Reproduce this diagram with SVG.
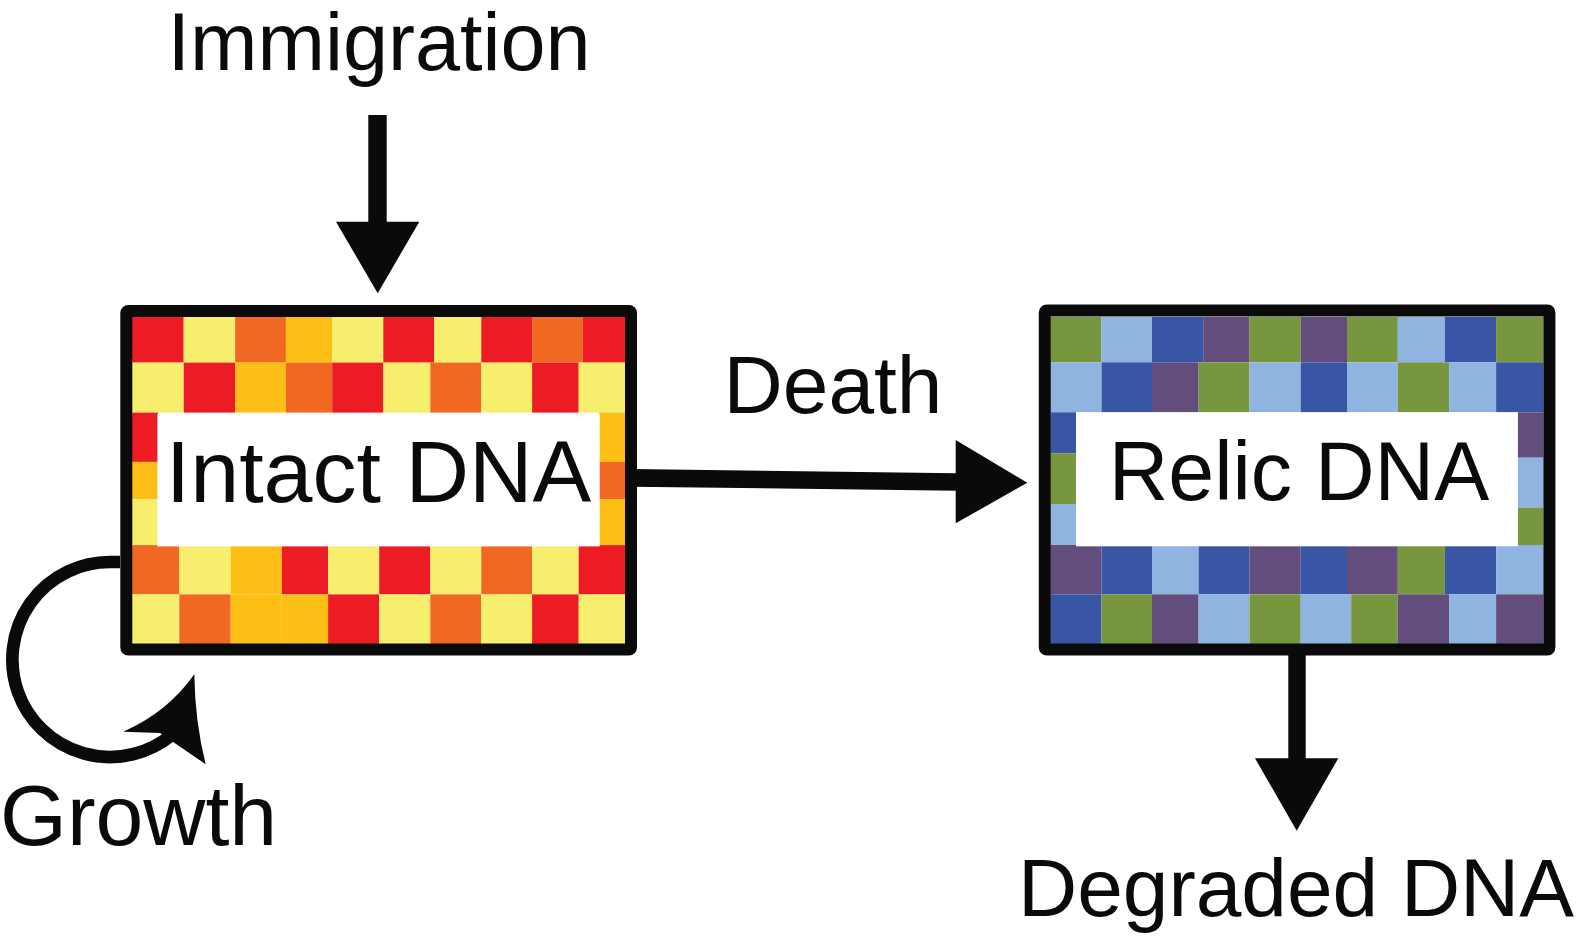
<svg xmlns="http://www.w3.org/2000/svg" width="1576" height="944" viewBox="0 0 1576 944">
<style>
text{font-family:"Liberation Sans",Arial,sans-serif;fill:#0a0a0b}
.R{fill:#ED1C24}.Y{fill:#F6EE6C}.O{fill:#F16822}.G{fill:#FDBF16}
.gr{fill:#78963D}.lb{fill:#8FB4E0}.b{fill:#3955A6}.p{fill:#634D7D}
.frame{fill:none;stroke:#0a0a0b;stroke-width:12;stroke-linejoin:round}
.blk{fill:#0a0a0b}
</style>
<rect width="1576" height="944" fill="#fff"/>
<g id="intact-dna">
<rect class="R" x="132" y="317" width="51.7" height="45.6"/><rect class="Y" x="183.7" y="317" width="51.4" height="45.6"/><rect class="O" x="235.1" y="317" width="50.8" height="45.6"/><rect class="G" x="285.9" y="317" width="46.3" height="45.6"/><rect class="Y" x="332.2" y="317" width="51.1" height="45.6"/><rect class="R" x="383.3" y="317" width="50.7" height="45.6"/><rect class="Y" x="434" y="317" width="47.3" height="45.6"/><rect class="R" x="481.3" y="317" width="50.8" height="45.6"/><rect class="O" x="532.1" y="317" width="50.7" height="45.6"/><rect class="R" x="582.8" y="317" width="42.2" height="45.6"/>
<rect class="Y" x="132" y="362.6" width="51.7" height="50"/><rect class="R" x="183.7" y="362.6" width="51.4" height="50"/><rect class="G" x="235.1" y="362.6" width="50.8" height="50"/><rect class="O" x="285.9" y="362.6" width="46.3" height="50"/><rect class="R" x="332.2" y="362.6" width="51.1" height="50"/><rect class="Y" x="383.3" y="362.6" width="47" height="50"/><rect class="O" x="430.3" y="362.6" width="51" height="50"/><rect class="Y" x="481.3" y="362.6" width="50.8" height="50"/><rect class="R" x="532.1" y="362.6" width="46.6" height="50"/><rect class="Y" x="578.7" y="362.6" width="46.3" height="50"/>
<rect class="R" x="132" y="412.6" width="26" height="49.3"/><rect class="G" x="132" y="461.9" width="26" height="37.3"/><rect class="Y" x="132" y="499.2" width="26" height="45.9"/>
<rect class="G" x="599" y="412.6" width="26" height="49.3"/><rect class="O" x="599" y="461.9" width="26" height="37.3"/><rect class="G" x="599" y="499.2" width="26" height="45.9"/>
<rect class="O" x="132" y="545.1" width="47.3" height="49.3"/><rect class="Y" x="179.3" y="545.1" width="51.4" height="49.3"/><rect class="G" x="230.7" y="545.1" width="51.1" height="49.3"/><rect class="R" x="281.8" y="545.1" width="46.3" height="49.3"/><rect class="Y" x="328.1" y="545.1" width="51.1" height="49.3"/><rect class="R" x="379.2" y="545.1" width="51.1" height="49.3"/><rect class="Y" x="430.3" y="545.1" width="51" height="49.3"/><rect class="O" x="481.3" y="545.1" width="50.8" height="49.3"/><rect class="Y" x="532.1" y="545.1" width="46.6" height="49.3"/><rect class="R" x="578.7" y="545.1" width="46.3" height="49.3"/>
<rect class="Y" x="132" y="594.4" width="47.3" height="49.6"/><rect class="O" x="179.3" y="594.4" width="51.4" height="49.6"/><rect class="G" x="230.7" y="594.4" width="51.1" height="49.6"/><rect class="G" x="281.8" y="594.4" width="46.3" height="49.6"/><rect class="R" x="328.1" y="594.4" width="51.1" height="49.6"/><rect class="Y" x="379.2" y="594.4" width="51.1" height="49.6"/><rect class="O" x="430.3" y="594.4" width="51" height="49.6"/><rect class="Y" x="481.3" y="594.4" width="50.8" height="49.6"/><rect class="R" x="532.1" y="594.4" width="46.6" height="49.6"/><rect class="Y" x="578.7" y="594.4" width="46.3" height="49.6"/>
<rect fill="#fff" x="157.4" y="413.9" width="442.3" height="132.5"/>
<rect class="frame" x="126.3" y="311" width="504.7" height="338.5" rx="2"/>
<text x="378.5" y="501.5" font-size="88" text-anchor="middle">Intact DNA</text>
</g>
<g id="relic-dna">
<rect class="gr" x="1050.6" y="317" width="50.9" height="45.3"/><rect class="lb" x="1101.5" y="317" width="50.5" height="45.3"/><rect class="b" x="1152" y="317" width="51.2" height="45.3"/><rect class="p" x="1203.2" y="317" width="46.3" height="45.3"/><rect class="gr" x="1249.5" y="317" width="51.2" height="45.3"/><rect class="p" x="1300.7" y="317" width="46.3" height="45.3"/><rect class="gr" x="1347" y="317" width="50.8" height="45.3"/><rect class="lb" x="1397.8" y="317" width="47.1" height="45.3"/><rect class="b" x="1444.9" y="317" width="51.2" height="45.3"/><rect class="gr" x="1496.1" y="317" width="47.3" height="45.3"/>
<rect class="lb" x="1050.6" y="362.3" width="50.9" height="50"/><rect class="b" x="1101.5" y="362.3" width="50.5" height="50"/><rect class="p" x="1152" y="362.3" width="46.6" height="50"/><rect class="gr" x="1198.6" y="362.3" width="50.9" height="50"/><rect class="lb" x="1249.5" y="362.3" width="51.2" height="50"/><rect class="b" x="1300.7" y="362.3" width="46.3" height="50"/><rect class="lb" x="1347" y="362.3" width="50.8" height="50"/><rect class="gr" x="1397.8" y="362.3" width="51.3" height="50"/><rect class="lb" x="1449.1" y="362.3" width="47" height="50"/><rect class="b" x="1496.1" y="362.3" width="47.3" height="50"/>
<rect class="b" x="1050.6" y="412.3" width="25.6" height="41"/><rect class="gr" x="1050.6" y="453.3" width="25.6" height="50.7"/><rect class="lb" x="1050.6" y="504" width="25.6" height="41"/>
<rect class="p" x="1517.6" y="412.3" width="25.8" height="45.4"/><rect class="lb" x="1517.6" y="457.7" width="25.8" height="50"/><rect class="gr" x="1517.6" y="507.7" width="25.8" height="37.3"/>
<rect class="p" x="1050.6" y="545" width="50.9" height="49.3"/><rect class="b" x="1101.5" y="545" width="50.5" height="49.3"/><rect class="lb" x="1152" y="545" width="46.6" height="49.3"/><rect class="b" x="1198.6" y="545" width="50.9" height="49.3"/><rect class="p" x="1249.5" y="545" width="51.2" height="49.3"/><rect class="b" x="1300.7" y="545" width="46.3" height="49.3"/><rect class="p" x="1347" y="545" width="50.8" height="49.3"/><rect class="gr" x="1397.8" y="545" width="47.1" height="49.3"/><rect class="b" x="1444.9" y="545" width="51.2" height="49.3"/><rect class="lb" x="1496.1" y="545" width="47.3" height="49.3"/>
<rect class="b" x="1050.6" y="594.3" width="50.9" height="49.7"/><rect class="gr" x="1101.5" y="594.3" width="50.5" height="49.7"/><rect class="p" x="1152" y="594.3" width="46.6" height="49.7"/><rect class="lb" x="1198.6" y="594.3" width="50.9" height="49.7"/><rect class="gr" x="1249.5" y="594.3" width="51.2" height="49.7"/><rect class="lb" x="1300.7" y="594.3" width="50.5" height="49.7"/><rect class="gr" x="1351.2" y="594.3" width="46.6" height="49.7"/><rect class="p" x="1397.8" y="594.3" width="51.3" height="49.7"/><rect class="lb" x="1449.1" y="594.3" width="47" height="49.7"/><rect class="p" x="1496.1" y="594.3" width="47.3" height="49.7"/>
<rect fill="#fff" x="1076" y="412.3" width="441.8" height="134"/>
<rect class="frame" x="1044.8" y="310.5" width="504.6" height="339" rx="2"/>
<text x="1299" y="500" font-size="82.5" text-anchor="middle">Relic DNA</text>
</g>
<g id="label-immigration"><text x="379" y="70" font-size="81" text-anchor="middle">Immigration</text></g>
<g id="label-death"><text x="833" y="412.5" font-size="82" text-anchor="middle">Death</text></g>
<g id="label-growth"><text x="0" y="845" font-size="86">Growth</text></g>
<g id="label-degraded"><text x="1296" y="916" font-size="82" text-anchor="middle">Degraded DNA</text></g>
<g id="connectors">
<rect class="blk" x="368.3" y="115" width="18.4" height="108"/>
<polygon class="blk" points="336,221.7 419.3,221.7 377.7,293.3"/>
<polygon class="blk" points="631,469 957,473.3 957,490.7 631,486.7"/>
<polygon class="blk" points="955.7,440 1027.3,482.7 955.7,523.3"/>
<rect class="blk" x="1288.3" y="650" width="17.4" height="110"/>
<polygon class="blk" points="1255,758.3 1338.3,758.3 1296.7,830.7"/>
<path d="M120,562 L110.5,562 A97.5,97.5 0 1 0 171.8,734.8" fill="none" stroke="#0a0a0b" stroke-width="12.7"/>
<path class="blk" d="M194.3,674.3 Q168,712 123.3,731.7 L160,733 L205.7,764.3 Q195,722 194.3,674.3 Z"/>
</g>
</svg>
